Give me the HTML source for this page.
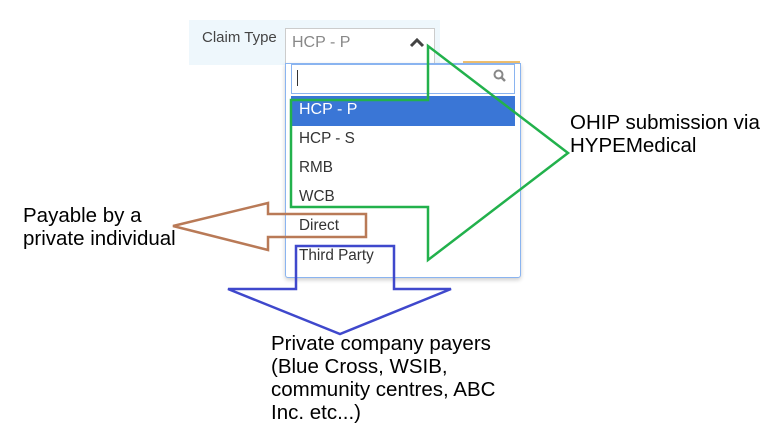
<!DOCTYPE html>
<html><head><meta charset="utf-8"><style>
body{margin:0;width:772px;height:433px;background:#fff;position:relative;overflow:hidden;font-family:"Liberation Sans",sans-serif}
.a{position:absolute}
.t{position:absolute;font-size:20.5px;color:#000;line-height:23px;white-space:nowrap}
.it{position:absolute;left:299px;font-size:15.3px;color:#333}
</style></head><body>
<div class="a" style="left:189px;top:20px;width:251px;height:45px;background:#eef7fc"></div>
<div class="a" style="left:202px;top:29px;font-size:15px;color:#444">Claim Type</div>
<div class="a" style="left:285px;top:28px;width:148px;height:36px;background:#fff;border:1px solid #ccc;border-bottom:none"></div>
<div class="a" style="left:292px;top:34px;font-size:16px;color:#888">HCP - P</div>
<svg class="a" style="left:409px;top:38px" width="16" height="10"><polyline points="2,8 8,2 14,8" fill="none" stroke="#444" stroke-width="3"/></svg>
<div class="a" style="left:463px;top:61px;width:57px;height:2px;background:#f0c070"></div>
<div class="a" style="left:285px;top:63px;width:234px;height:213px;background:#fff;border:1px solid #8ab4f0;border-radius:0 0 3px 3px;box-shadow:0 2px 4px rgba(0,0,0,.2)"></div>
<div class="a" style="left:291px;top:64px;width:222px;height:28px;border:1px solid #8ab4f0;background:#fff"></div>
<div class="a" style="left:297px;top:70px;width:1px;height:16px;background:#333"></div>
<svg class="a" style="left:493px;top:69px" width="14" height="14"><circle cx="5.5" cy="5.5" r="4" fill="none" stroke="#888" stroke-width="2"/><line x1="8.5" y1="8.5" x2="12" y2="12" stroke="#888" stroke-width="2.5"/></svg>
<div class="a" style="left:291px;top:96px;width:224px;height:30px;background:#3a76d6"></div>
<div class="it" style="top:101px;color:#fff;font-size:16px">HCP - P</div>
<div class="it" style="top:130px">HCP - S</div>
<div class="it" style="top:159px">RMB</div>
<div class="it" style="top:188px">WCB</div>
<div class="it" style="top:217px">Direct</div>
<div class="it" style="top:247px">Third Party</div>
<svg class="a" style="left:0;top:0" width="772" height="433">
<polygon points="428,46 428,100 291,100 291,207 428,207 428,260 568,153" fill="none" stroke="#22b14c" stroke-width="2.5"/>
<polygon points="173,226 268,203 268,214 366,214 366,237 268,237 268,250" fill="none" stroke="#b97a57" stroke-width="2.5"/>
<polygon points="296,246 296,289 228,289 340,334 451,289 394,289 394,246" fill="none" stroke="#3f48cc" stroke-width="2.5"/>
</svg>
<div class="t" style="left:570px;top:111px">OHIP submission via<br>HYPEMedical</div>
<div class="t" style="left:23px;top:204px">Payable by a<br>private individual</div>
<div class="t" style="left:271px;top:332px">Private company payers<br>(Blue Cross, WSIB,<br>community centres, ABC<br>Inc. etc...)</div>
</body></html>
